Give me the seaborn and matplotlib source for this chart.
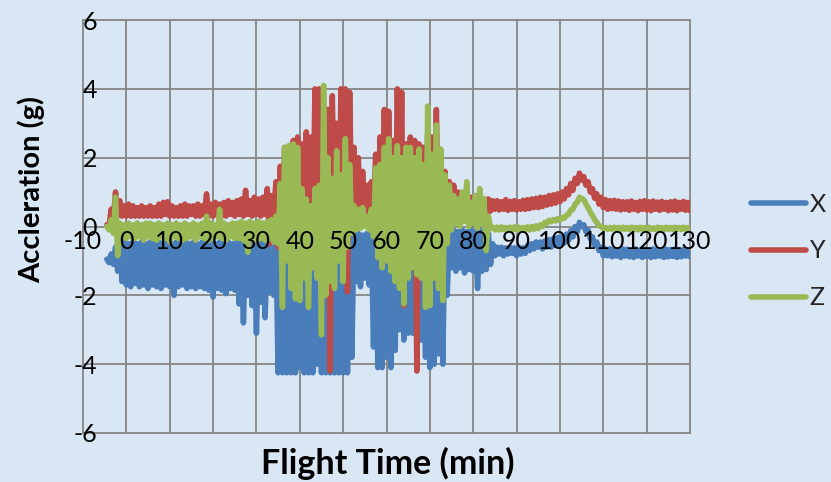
import numpy as np
import pandas as pd
import matplotlib
matplotlib.use("Agg")
import matplotlib.pyplot as plt
from matplotlib.lines import Line2D
import seaborn as sns

# Accelerometer log: one sample every half minute, starting 4.5 min before take-off
minutes = np.arange(270) * 0.5 - 4.5

accel_x = [
    -0.95, -1.05, -0.8, -1.1, -0.6, -1.3, -0.5, -1.6, -0.45, -1.7, -0.5, -1.75, -0.45, -1.65, -0.5, -1.75, -0.45, -1.7, -0.5, -1.8,
    -0.45, -1.7, -0.5, -1.75, -0.45, -1.8, -0.5, -1.7, -0.45, -1.75, -0.5, -2.0, -0.45, -1.75, -0.5, -1.7, -0.45, -1.8, -0.5, -1.75,
    -0.45, -1.8, -0.5, -1.75, -0.45, -1.8, -0.5, -1.85, -0.45, -2.05, -0.5, -1.8, -0.45, -1.85, -0.5, -1.95, -0.45, -1.8, -0.5, -1.85,
    -0.45, -2.25, -0.5, -2.8, -0.45, -2.0, -0.5, -2.3, -0.45, -3.1, -0.5, -2.2, -0.45, -2.65, -0.5, -1.9, -0.4, -2.0, -0.3, -4.25,
    0.8, -4.25, 0.5, -4.25, 1.0, -4.25, 0.6, -4.25, 1.2, -4.1, 0.8, -4.25, 1.0, -4.25, 0.7, -4.25, 1.1, -4.0, 0.9, -4.25,
    1.0, -4.25, 0.8, -4.25, 1.2, -4.25, 0.9, -4.25, 1.0, -4.25, 0.6, -4.25, 0.3, -3.8, -0.2, -1.6, -0.2, -1.75, -0.25, -1.5,
    -0.2, -1.7, 0.0, -3.5, 0.5, -4.1, 1.0, -4.1, 0.8, -3.8, 1.2, -4.1, 0.9, -3.6, 1.0, -3.0, 0.8, -3.3, 1.0, -3.1,
    1.0, -3.1, 1.3, -3.5, 1.5, -3.3, 2.3, -3.8, 1.8, -4.1, 1.5, -4.0, 1.2, -3.7, 1.0, -4.0, 0.5, -2.0, -0.1, -1.2,
    -0.1, -1.3, -0.15, -1.2, -0.1, -1.35, -0.15, -1.25, -0.1, -1.3, -0.15, -1.8, -0.1, -1.3, -0.15, -1.25, -0.2, -1.1, -0.5, -0.85,
    -0.6, -0.8, -0.6, -0.85, -0.62, -0.8, -0.6, -0.78, -0.62, -0.85, -0.6, -0.8, -0.62, -0.78, -0.55, -0.7, -0.5, -0.65, -0.45, -0.6,
    -0.45, -0.65, -0.42, -0.6, -0.38, -0.6, -0.35, -0.55, -0.32, -0.55, -0.3, -0.48, -0.22, -0.4, -0.12, -0.3, 0.0, -0.15, 0.12, 0.0,
    0.05, -0.15, -0.1, -0.35, -0.3, -0.55, -0.45, -0.7, -0.6, -0.85, -0.65, -0.85, -0.65, -0.88, -0.66, -0.86, -0.68, -0.9, -0.65, -0.86,
    -0.66, -0.88, -0.7, -0.9, -0.65, -0.86, -0.68, -0.9, -0.66, -0.87, -0.69, -0.9, -0.65, -0.88, -0.67, -0.86, -0.7, -0.9, -0.66, -0.88,
    -0.67, -0.87, -0.65, -0.9, -0.68, -0.88, -0.66, -0.86, -0.7, -0.88,
]

accel_y = [
    0.05, 0.0, 0.5, 0.2, 1.0, 0.3, 0.75, 0.3, 0.6, 0.3, 0.65, 0.3, 0.6, 0.3, 0.55, 0.3, 0.6, 0.3, 0.55, 0.3,
    0.6, 0.3, 0.55, 0.3, 0.65, 0.3, 0.7, 0.35, 0.72, 0.3, 0.6, 0.3, 0.55, 0.3, 0.6, 0.3, 0.65, 0.3, 0.6, 0.35,
    0.6, 0.3, 0.65, 0.3, 0.6, 0.35, 0.95, 0.3, 0.65, 0.3, 0.7, 0.35, 0.65, 0.3, 0.7, 0.3, 0.75, 0.35, 0.7, 0.3,
    0.75, 0.35, 0.8, 0.3, 1.05, 0.35, 0.75, 0.3, 0.85, 0.35, 0.8, 0.3, 0.85, 0.35, 1.1, -0.5, 0.9, 0.4, 1.3, -0.6,
    1.75, 0.0, 2.3, -0.9, 2.1, 0.2, 2.5, -0.3, 2.6, 0.1, 2.4, -0.5, 2.75, 0.0, 2.6, -0.4, 4.0, 0.2, 4.0, -0.6,
    3.5, -0.3, 3.4, -4.2, 3.8, 0.0, 3.0, -0.5, 4.0, 0.2, 4.0, -1.9, 3.9, 0.3, 2.3, 0.2, 2.0, 0.3, 1.6, 0.4,
    1.2, 0.4, 1.3, 0.2, 2.1, -0.5, 2.6, 0.0, 3.4, -0.8, 3.35, -0.3, 2.5, -1.0, 4.0, -0.5, 3.9, -2.3, 2.4, -0.7,
    2.6, -0.9, 2.5, -4.2, 2.4, -1.2, 2.3, -0.6, 2.7, -1.0, 2.6, -0.4, 3.4, -0.2, 2.2, 0.0, 1.6, 0.2, 1.3, 0.3,
    1.2, 0.4, 1.0, 0.3, 0.95, 0.4, 0.85, 0.3, 0.85, 0.35, 0.8, 0.0, 0.85, 0.3, 0.8, -0.1, 0.8, 0.45, 0.75, 0.5,
    0.75, 0.48, 0.72, 0.5, 0.78, 0.47, 0.73, 0.5, 0.75, 0.48, 0.72, 0.5, 0.76, 0.5, 0.78, 0.52, 0.8, 0.55, 0.82, 0.55,
    0.85, 0.58, 0.85, 0.62, 0.9, 0.65, 0.92, 0.68, 0.95, 0.72, 1.0, 0.8, 1.1, 0.92, 1.25, 1.05, 1.4, 1.25, 1.55, 1.35,
    1.45, 1.2, 1.3, 1.0, 1.1, 0.82, 0.95, 0.65, 0.85, 0.55, 0.78, 0.5, 0.75, 0.52, 0.76, 0.5, 0.74, 0.48, 0.72, 0.5,
    0.72, 0.47, 0.74, 0.5, 0.7, 0.46, 0.73, 0.5, 0.75, 0.48, 0.72, 0.46, 0.74, 0.5, 0.71, 0.47, 0.73, 0.5, 0.7, 0.46,
    0.72, 0.48, 0.74, 0.46, 0.7, 0.5, 0.73, 0.47, 0.7, 0.46,
]

accel_z = [
    0.0, -0.1, 0.2, -0.2, 0.85, -0.85, 0.1, -0.3, 0.05, -0.35, 0.1, -0.3, 0.05, -0.35, 0.1, -0.3, 0.05, -0.4, 0.1, -0.3,
    0.1, -0.35, 0.05, -0.4, 0.1, -0.3, 0.05, -0.35, 0.1, -0.45, 0.05, -0.3, 0.1, -0.35, 0.05, -0.4, 0.1, -0.35, 0.05, -0.3,
    0.1, -0.4, 0.05, -0.3, 0.1, -0.35, 0.3, -0.4, 0.1, -0.35, 0.05, -0.3, 0.5, -0.35, 0.1, -0.4, 0.05, -0.3, 0.1, -0.35,
    0.1, -0.35, 0.15, -0.4, 0.1, -0.75, 0.15, -0.35, 0.1, -0.4, 0.15, -0.35, 0.1, -0.4, 0.15, -0.35, 0.2, -0.45, 0.3, -0.5,
    1.25, -2.35, 2.3, -1.0, 2.35, -1.8, 2.4, -2.1, 2.3, -2.15, 1.1, -1.5, 0.8, -2.35, 0.6, -1.2, 1.1, -1.5, 1.2, -3.15,
    4.1, -2.0, 2.0, -1.6, 1.4, -1.8, 2.2, -1.0, 1.5, -1.6, 2.55, -0.6, 1.8, -0.2, 0.6, -0.1, 0.5, -0.05, 0.55, 0.0,
    0.3, -0.1, 0.5, -0.3, 1.7, -0.9, 1.8, -1.2, 2.3, -1.0, 2.55, -1.3, 2.0, -1.6, 2.35, -1.8, 2.0, -2.25, 2.3, -1.5,
    2.3, -1.2, 2.0, -1.4, 2.25, -1.5, 1.8, -2.35, 3.5, -2.3, 2.1, -1.5, 2.95, -1.8, 2.25, -2.15, 1.5, -0.5, 1.2, -0.1,
    0.9, 0.1, 0.8, 0.0, 1.0, 0.15, 1.3, 0.0, 0.7, 0.1, 0.9, -0.05, 1.1, 0.1, 0.8, -0.7, 0.3, -0.05, -0.02, -0.1,
    -0.02, -0.1, -0.01, -0.09, -0.03, -0.1, -0.02, -0.11, -0.01, -0.09, -0.02, -0.1, -0.03, -0.09, -0.01, -0.1, 0.0, -0.08, 0.02, -0.06,
    0.05, 0.0, 0.12, 0.1, 0.18, 0.14, 0.2, 0.16, 0.23, 0.19, 0.26, 0.24, 0.33, 0.35, 0.48, 0.5, 0.65, 0.7, 0.85, 0.82,
    0.78, 0.65, 0.55, 0.42, 0.32, 0.2, 0.12, 0.02, 0.0, -0.06, -0.03, -0.08, -0.03, -0.08, -0.02, -0.08, -0.03, -0.09, -0.02, -0.08,
    -0.03, -0.09, -0.02, -0.08, -0.03, -0.1, -0.02, -0.08, -0.03, -0.09, -0.02, -0.08, -0.04, -0.09, -0.02, -0.08, -0.03, -0.1, -0.02, -0.08,
    -0.03, -0.09, -0.02, -0.08, -0.03, -0.09, -0.02, -0.08, -0.03, -0.09,
]

axis_names = ["X", "Y", "Z"]
axis_colors = ["#4A7EBB", "#BE4B48", "#98B954"]
x_ticks = list(range(-10, 131, 10))
y_ticks = list(range(-6, 7, 2))

BG = "#D9E6F4"
GRID = "#858585"
LW = 4.0

frames = []
for name, vals in zip(axis_names, [accel_x, accel_y, accel_z]):
    frames.append(pd.DataFrame({"Flight Time (min)": minutes, "Accleration (g)": vals, "Axis": name}))
df = pd.concat(frames, ignore_index=True)

sns.set_theme(style="white")
plt.rcParams["font.family"] = ["Lato", "DejaVu Sans"]

fig = plt.figure(figsize=(8.31, 4.82), dpi=100, facecolor=BG)
ax = fig.add_axes([83 / 831, 1 - 433 / 482, (690 - 83) / 831, (433 - 20) / 482])
ax.set_facecolor("none")

sns.lineplot(
    data=df, x="Flight Time (min)", y="Accleration (g)", hue="Axis",
    hue_order=axis_names, palette=axis_colors, estimator=None, sort=False,
    linewidth=LW, ax=ax, legend=False,
)
for ln in ax.get_lines():
    ln.set_solid_joinstyle("round")
    ln.set_solid_capstyle("round")

ax.set_xlim(-10, 130)
ax.set_ylim(-6, 6)
ax.set_xticks(x_ticks)
ax.set_yticks(y_ticks)
ax.set_yticklabels([str(v) for v in y_ticks])
ax.set_xticklabels([])

ax.set_axisbelow(True)
ax.grid(True, color=GRID, linewidth=1.3)
for gl in ax.get_xgridlines() + ax.get_ygridlines():
    gl.set_clip_on(False)
for s in ax.spines.values():
    s.set_visible(False)

ax.tick_params(axis="x", length=0)
ax.tick_params(axis="y", length=0, pad=-10, labelsize=18, labelcolor="black")

# horizontal axis crosses at zero: its labels sit just under that line, above the traces
for v in x_ticks:
    ax.annotate(str(v), xy=(v, 0), xytext=(0, -10.5), textcoords="offset points",
                ha="center", va="center", fontsize=18, color="black", zorder=6,
                annotation_clip=False)

ax.set_xlabel("")
ax.set_ylabel("")
fig.text(388 / 831, 1 - 463 / 482, "Flight Time (min)", ha="center", va="center",
         fontsize=24.5, fontweight="bold", color="black")
fig.text(31 / 831, 1 - 190 / 482, "Accleration (g)", ha="center", va="center",
         rotation=90, fontsize=21, fontweight="bold", color="black")

handles = [Line2D([0], [0], color=c, linewidth=LW, solid_capstyle="round") for c in axis_colors]
fig.legend(handles, axis_names, loc="center left", bbox_to_anchor=(751 / 831, 1 - 251 / 482),
           frameon=False, fontsize=18, handlelength=2.2, handletextpad=0.15,
           labelspacing=0.95, borderpad=0, borderaxespad=0)

fig.savefig("out.png", dpi=100, facecolor=BG)
